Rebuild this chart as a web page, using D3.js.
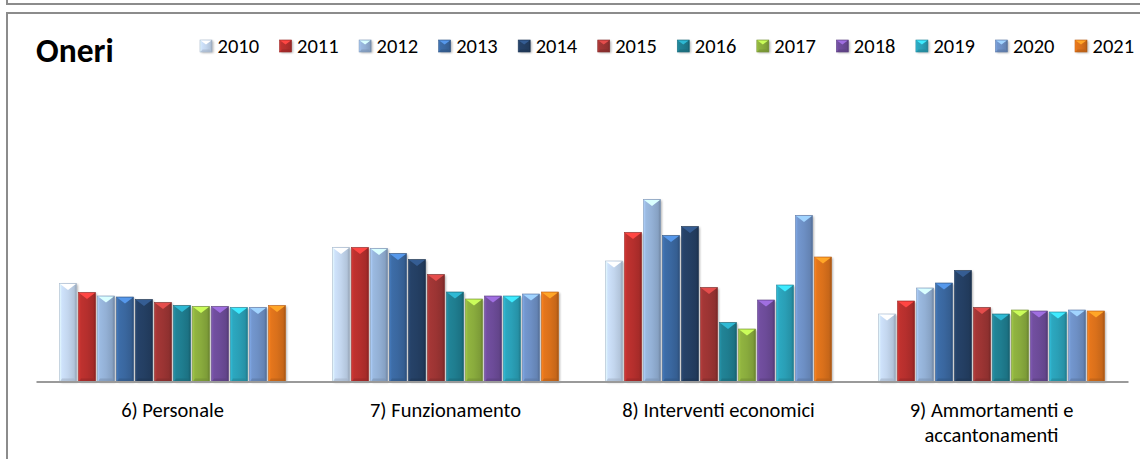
<!DOCTYPE html>
<html>
<head>
<meta charset="utf-8">
<script src="https://cdn.jsdelivr.net/npm/d3@7"></script>
<style>
  html, body { margin: 0; padding: 0; background: #fff; }
  svg { display: block; }
  text { font-family: Carlito, Calibri, Lato, "Open Sans", sans-serif; }
</style>
</head>
<body>
<svg id="chart" width="1140" height="459"></svg>
<script>
const title = "Oneri";
const categories = ["6) Personale", "7) Funzionamento", "8) Interventi economici", "9) Ammortamenti e accantonamenti"];
const years = ["2010", "2011", "2012", "2013", "2014", "2015", "2016", "2017", "2018", "2019", "2020", "2021"];
const colors = ["#c3d6ee", "#b52f2d", "#93b0d5", "#3a679f", "#243f63", "#9b3433", "#1f7d8f", "#89ab3d", "#6c4b98", "#2a9fb6", "#6d8fc4", "#d9701b"];
const personale     = [98, 89, 85.5, 84.5, 82, 79, 76, 75, 75, 74, 74, 76];
const funzionamento = [134, 134, 133, 128, 122, 107, 89.5, 82.5, 85.5, 85.5, 87.5, 89.5];
const interventi    = [120.5, 149, 182, 146, 155, 94, 59, 52.5, 81.5, 96.5, 166, 124.5];
const ammortamenti  = [67.5, 80.5, 93.5, 98.5, 111, 74, 67.5, 71.5, 70.5, 69.5, 71.5, 70.5];
const seriesByCategory = [personale, funzionamento, interventi, ammortamenti];

const svg = d3.select("#chart");
const defs = svg.append("defs");

// frame
svg.append("path").attr("d", "M7,0 V4 H1140").attr("fill", "none").attr("stroke", "#8c8c8c").attr("stroke-width", 2);
svg.append("path").attr("d", "M7,459 V13 H1140").attr("fill", "none").attr("stroke", "#8c8c8c").attr("stroke-width", 2);

colors.forEach((c, i) => {
  const base = d3.color(c);
  const g = defs.append("linearGradient").attr("id", "g" + i).attr("x1", "0").attr("x2", "1").attr("y1", "0").attr("y2", "0");
  g.append("stop").attr("offset", "0%").attr("stop-color", base.brighter(0.5));
  g.append("stop").attr("offset", "14%").attr("stop-color", base.brighter(0.15));
  g.append("stop").attr("offset", "50%").attr("stop-color", base);
  g.append("stop").attr("offset", "86%").attr("stop-color", base.darker(0.25));
  g.append("stop").attr("offset", "100%").attr("stop-color", base.darker(0.8));
});
const blur = defs.append("filter").attr("id", "sh").attr("x", "-50%").attr("y", "-10%").attr("width", "200%").attr("height", "120%");
blur.append("feGaussianBlur").attr("stdDeviation", 1.2);

const x0 = d3.scaleBand().domain(categories).range([36, 1128]);
const x1 = d3.scaleBand().domain(years).range([0, x0.bandwidth()]).paddingInner(0.105).paddingOuter(1.237);
const y = d3.scaleLinear().domain([0, 200]).range([381.5, 181.5]);

function drawBevel(sel, x, top, w, h, i) {
  const base = d3.color(colors[i]);
  sel.append("rect").attr("x", x + 1.5).attr("y", top + 1).attr("width", w).attr("height", h)
    .attr("fill", "#000").attr("opacity", 0.28).attr("filter", "url(#sh)");
  sel.append("rect").attr("x", x).attr("y", top).attr("width", w).attr("height", h)
    .attr("fill", "url(#g" + i + ")").attr("stroke", base.darker(0.4)).attr("stroke-width", 0.6);
  const th = Math.min(w * 0.38, h * 0.5);
  sel.append("path")
    .attr("d", `M${x + 0.6},${top + 0.6} L${x + w - 0.6},${top + 0.6} L${x + w / 2},${top + th} Z`)
    .attr("fill", base.brighter(1.1));
  const bh = Math.min(3, h * 0.2);
  sel.append("path")
    .attr("d", `M${x + 0.5},${top + h} L${x + w - 0.5},${top + h} L${x + w - 2.5},${top + h - bh} L${x + 2.5},${top + h - bh} Z`)
    .attr("fill", base.darker(0.5)).attr("opacity", 0.6);
}

const groups = svg.append("g").selectAll("g").data(categories).join("g")
  .attr("transform", d => `translate(${x0(d)},0)`);
groups.each(function (cat, ci) {
  const g = d3.select(this);
  seriesByCategory[ci].forEach((v, i) => {
    const bx = x1(years[i]);
    const top = y(v);
    drawBevel(g.append("g"), bx, top, x1.bandwidth(), y(0) - top, i);
  });
});

const xAxis = d3.axisBottom(x0).tickSize(0).tickPadding(0);
const axisG = svg.append("g").attr("transform", `translate(0,${y(0)})`).call(xAxis);
axisG.select(".domain").attr("stroke", "#9a9a9a").attr("stroke-width", 2.2);
axisG.selectAll(".tick text")
  .attr("font-size", 20.5).attr("fill", "#000")
  .attr("font-family", "Carlito, Calibri, Lato, sans-serif")
  .each(function (d) {
    const t = d3.select(this);
    const words = d.split(" ");
    t.text(null);
    let lines = [], line = [];
    const tmp = t.append("tspan");
    words.forEach(w => {
      line.push(w);
      tmp.text(line.join(" "));
      if (tmp.node().getComputedTextLength() > 240 && line.length > 1) {
        line.pop(); lines.push(line.join(" ")); line = [w];
      }
    });
    lines.push(line.join(" "));
    tmp.remove();
    lines.forEach((l, k) => {
      t.append("tspan").attr("x", 0).attr("y", 35 + k * 25).text(l);
    });
  })
  .attr("dy", null);

svg.append("text").attr("x", 36).attr("y", 62).attr("font-size", 33.5).attr("font-weight", "bold").attr("fill", "#000").text(title);

const legendX = d3.scaleLinear().domain([0, years.length - 1]).range([200, 1075]);
const leg = svg.append("g").selectAll("g").data(years).join("g")
  .attr("transform", (d, i) => `translate(${legendX(i)},40)`);
leg.each(function (d, i) {
  const g = d3.select(this);
  drawBevel(g, 0, 0, 12, 12, i);
  g.append("text").attr("x", 17.5).attr("y", 12.5).attr("font-size", 20.5).attr("fill", "#000").text(d);
});
</script>
</body>
</html>
